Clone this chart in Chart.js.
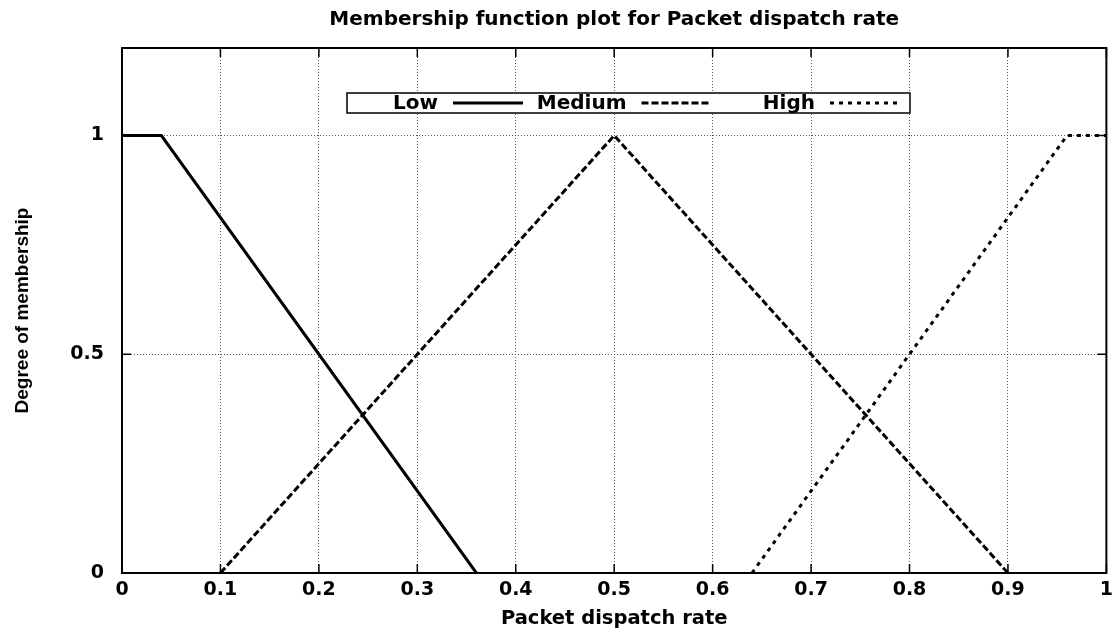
<!DOCTYPE html>
<html lang="en">
<head>
<meta charset="UTF-8">
<title>Membership function plot for Packet dispatch rate</title>
<script src="https://cdn.jsdelivr.net/npm/chart.js"></script>
<style>
  body { margin: 0; background: #fff; }
  #chart { display: block; }
</style>
</head>
<body>
<canvas id="chart" width="1119" height="633"></canvas>
<script>
// values
const chartTitle = 'Membership function plot for Packet dispatch rate';
const xTitle = 'Packet dispatch rate';
const yTitle = 'Degree of membership';
const xTicks = [0, 0.1, 0.2, 0.3, 0.4, 0.5, 0.6, 0.7, 0.8, 0.9, 1];
const yTicks = [0, 0.5, 1];
const seriesNames = ['Low', 'Medium', 'High'];
const lowX = [0, 0.04, 0.36];
const lowY = [1, 1, 0];
const mediumX = [0.1, 0.5, 0.9];
const mediumY = [0, 1, 0];
const highX = [0.64, 0.96, 1];
const highY = [0, 1, 1];

const toPoints = (xs, ys) => xs.map((x, i) => ({ x: x, y: ys[i] }));

Chart.defaults.font.family = '"DejaVu Sans", sans-serif';
Chart.defaults.font.weight = 'bold';
Chart.defaults.font.size = 19;
Chart.defaults.color = '#000';

const lineStyle = {
    fill: false,
    borderColor: '#000',
    borderWidth: 3,
    pointRadius: 0,
    tension: 0,
    borderCapStyle: 'butt',
};

// box, inward tick marks and the gnuplot-like key
const framePlugin = {
    id: 'frame',
    afterDatasetsDraw(chart) {
        const { ctx, chartArea: a, scales } = chart;
        ctx.save();
        ctx.strokeStyle = '#000';
        ctx.lineWidth = 1.5;
        ctx.setLineDash([]);
        ctx.beginPath();
        xTicks.forEach(v => {
            const px = scales.x.getPixelForValue(v);
            ctx.moveTo(px, a.bottom); ctx.lineTo(px, a.bottom - 9);
            ctx.moveTo(px, a.top); ctx.lineTo(px, a.top + 9);
        });
        yTicks.forEach(v => {
            const py = scales.y.getPixelForValue(v);
            ctx.moveTo(a.left, py); ctx.lineTo(a.left + 9, py);
            ctx.moveTo(a.right, py); ctx.lineTo(a.right - 9, py);
        });
        ctx.stroke();
        ctx.lineWidth = 2;
        ctx.strokeRect(a.left, a.top, a.right - a.left, a.bottom - a.top);

        // key
        const bx = a.left + 225, by = a.top + 45, bw = 563, bh = 20;
        ctx.fillStyle = '#fff';
        ctx.fillRect(bx, by, bw, bh);
        ctx.lineWidth = 1.5;
        ctx.strokeRect(bx, by, bw, bh);
        ctx.font = 'bold 20px "DejaVu Sans", sans-serif';
        ctx.fillStyle = '#000';
        ctx.textAlign = 'right';
        ctx.textBaseline = 'middle';
        chart.data.datasets.forEach((ds, i) => {
            const x0 = bx + 91 + i * 188.5;
            const cy = by + bh / 2;
            ctx.fillText(ds.label, x0, cy + 1);
            ctx.beginPath();
            ctx.lineWidth = ds.borderWidth;
            ctx.lineCap = 'butt';
            ctx.setLineDash(ds.borderDash || []);
            ctx.moveTo(x0 + 15, cy);
            ctx.lineTo(x0 + 85, cy);
            ctx.stroke();
        });
        ctx.restore();
    }
};

const ctx = document.getElementById('chart').getContext('2d');
const chart = new Chart(ctx, {
    type: 'line',
    data: {
        datasets: [
            Object.assign({ label: seriesNames[0], data: toPoints(lowX, lowY) }, lineStyle),
            Object.assign({ label: seriesNames[1], data: toPoints(mediumX, mediumY), borderDash: [7, 3] }, lineStyle),
            Object.assign({ label: seriesNames[2], data: toPoints(highX, highY), borderDash: [4, 5] }, lineStyle),
        ],
    },
    options: {
        responsive: false,
        animation: false,
        layout: { padding: { left: 0, right: 11, top: 0, bottom: 0 } },
        plugins: {
            legend: { display: false },
            tooltip: { enabled: false },
            title: { display: false },
        },
        scales: {
            x: {
                type: 'linear',
                min: 0,
                max: 1,
                afterBuildTicks: (s) => { s.ticks = xTicks.map(v => ({ value: v })); },
                afterFit: (s) => { s.height = 60; },
                ticks: { padding: 6, maxRotation: 0, callback: (v) => String(v) },
                grid: {
                    drawTicks: false,
                    color: (c) => (c.tick && (c.tick.value === 0 || c.tick.value === 1)) ? 'rgba(0,0,0,0)' : '#555',
                    lineWidth: 1,
                },
                border: { display: false, dash: [1, 2] },
                title: { display: true, text: xTitle, font: { size: 19.5 }, padding: { top: 0, bottom: 2 } },
            },
            // top axis only carries the plot title, centred over the plot box like gnuplot
            top: {
                type: 'linear',
                position: 'top',
                min: 0,
                max: 1,
                afterFit: (s) => { s.height = 48; },
                ticks: { display: false },
                grid: { display: false, drawTicks: false },
                border: { display: false },
                title: { display: true, text: chartTitle, font: { size: 20 }, padding: { top: 8, bottom: 0 } },
            },
            y: {
                type: 'linear',
                min: 0,
                max: 1.2,
                afterBuildTicks: (s) => { s.ticks = yTicks.map(v => ({ value: v })); },
                afterFit: (s) => { s.width = 122; },
                ticks: { padding: 18, callback: (v) => String(v) },
                grid: {
                    drawTicks: false,
                    color: (c) => (c.tick && c.tick.value === 0) ? 'rgba(0,0,0,0)' : '#555',
                    lineWidth: 1,
                },
                border: { display: false, dash: [1, 2] },
                title: {
                    display: true,
                    text: yTitle,
                    font: { family: '"Liberation Sans", Arial, sans-serif', size: 19, weight: 'bold' },
                    padding: { top: 11, bottom: 0 },
                },
            },
        },
    },
    plugins: [framePlugin],
});
</script>
</body>
</html>
